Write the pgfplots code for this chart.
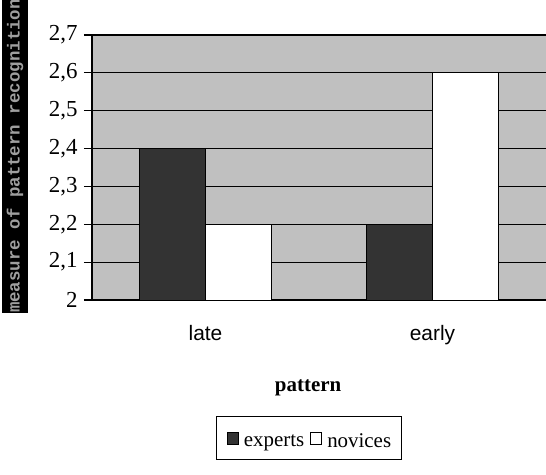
\documentclass[border=0pt]{standalone}
\usepackage{fontspec}
\setmainfont{Liberation Serif}
\newfontfamily\arial{Liberation Sans}
\newfontfamily\mono{Liberation Mono}
\usepackage{pgfplots}
\pgfplotsset{compat=1.18}
\definecolor{plotbg}{HTML}{C0C0C0}
\definecolor{dark}{HTML}{333333}
\begin{document}
\begin{tikzpicture}
\path[use as bounding box] (-92bp,-175bp) rectangle (454bp,300bp);
\begin{axis}[
  scale only axis,
  width=454bp, height=265bp,
  xmin=-0.5, xmax=1.5,
  ymin=2, ymax=2.7,
  ytick={2,2.1,2.2,2.3,2.4,2.5,2.6,2.7},
  /pgf/number format/.cd, use comma, fixed, fixed zerofill=false, precision=1, assume math mode=true,
  /pgfplots/.cd,
  yticklabel style={font=\fontsize{23}{25}\selectfont, xshift=-3bp},
  xtick={0,1},
  xticklabels={late,early},
  xticklabel style={font=\arial\fontsize{21}{24}\selectfont, yshift=-14bp},
  extra x ticks={-0.5,0.5},
  extra x tick labels={},
  extra x tick style={major tick length=8bp, tick style={black, line width=1.2pt}},
  major x tick style={draw=none},
  axis x line*=bottom,
  axis y line*=left,
  axis line style={black, line width=1.2pt, -},
  ytick style={black, line width=1.2pt},
  major tick length=8bp,
  tick align=outside,
  ymajorgrids,
  major grid style={black, line width=1.2pt},
  axis background/.style={fill=plotbg},
  xlabel={pattern},
  xlabel style={font=\bfseries\fontsize{21}{24}\selectfont, at={(axis description cs:0.476,0)}, anchor=center, yshift=-88bp},
  legend columns=2,
  legend style={at={([yshift=-138bp]axis description cs:0.478,0)}, anchor=center, draw=black, line width=1pt, font=\fontsize{21}{24}\selectfont, inner xsep=8bp, inner ysep=3bp, /tikz/every even column/.append style={column sep=2bp}},
  legend image code/.code={\path (0bp,-15bp) (16bp,21bp); \draw[#1, line width=0.8pt] (2bp,-3bp) rectangle (13bp,9bp);},
  clip=true,
]
\addplot[ybar, bar width=0.29, bar shift=-0.145, fill=dark, draw=black, line width=1pt] coordinates {(0,2.4) (1,2.2)};
\addlegendentry{experts}
\addplot[ybar, bar width=0.29, bar shift=0.145, fill=white, draw=black, line width=1pt] coordinates {(0,2.2) (1,2.6)};
\addlegendentry{novices}
\coordinate (o) at (rel axis cs:0,0);
\end{axis}
\node[fill=black, text=gray!75, rotate=90, minimum width=297bp, minimum height=26bp, inner sep=0pt, font=\mono\bfseries\fontsize{17.5}{18}\selectfont] at ([xshift=-77bp, yshift=144bp]o) {measure of pattern recognition};
\end{tikzpicture}
\end{document}
